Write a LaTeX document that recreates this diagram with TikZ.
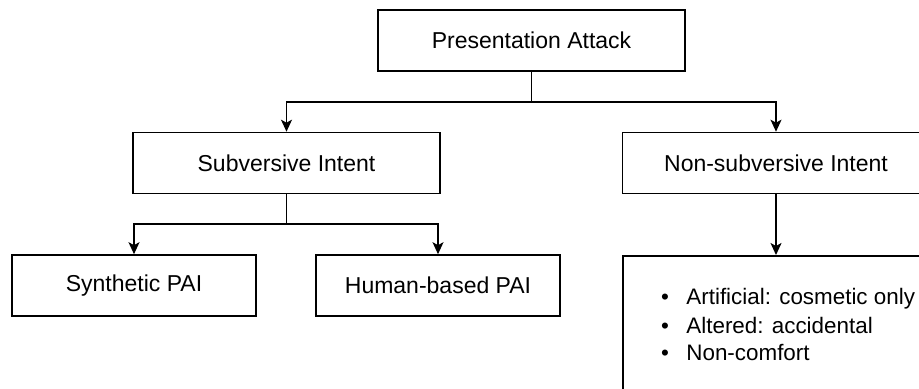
\documentclass[tikz,border=0pt]{standalone}
\usepackage{fontspec}
\setmainfont{Liberation Sans}
\usetikzlibrary{arrows.meta}
\tikzset{
  box/.style={draw=black, line width=0.8pt, fill=white, inner sep=0pt,
              minimum height=30.5pt, font=\fontsize{11.5}{13.8}\selectfont},
  wbox/.style={box, minimum width=153.5pt},
  nbox/.style={box, minimum width=122pt},
  conn/.style={draw=black, line width=0.8pt},
  arr/.style={conn, -{Stealth[length=6pt,width=5.5pt,inset=1.5pt]}},
  txt/.style={inner sep=0pt, font=\fontsize{11.2}{13.4}\selectfont}
}
\begin{document}
\begin{tikzpicture}[x=0.5pt, y=-0.5pt]
\useasboundingbox (0,0) rectangle (919,389);
\clip (0,0) rectangle (919,389);
\fill[white] (0,0) rectangle (919,389);

\node[wbox] (pa)  at (531.5,40.5) {Presentation Attack};
\node[wbox] (sub) at (286.5,163)  {Subversive Intent};
\node[wbox] (ns)  at (776,163)    {Non-subversive Intent};
\node[nbox] (syn) at (134,285.5)  {Synthetic PAI};
\node[nbox] (hum) at (438,285.5)  {Human-based PAI};
\node[box, minimum width=153.5pt, minimum height=80pt, anchor=north west] (lst) at (622,255) {};

\node[txt, anchor=base] (b1) at (665,305) {\textbullet};
\node[txt, anchor=base] (b2) at (665,333) {\textbullet};
\node[txt, anchor=base] (b3) at (665,360) {\textbullet};
\node[txt, anchor=base west] (t1) at (686,305) {Artificial: cosmetic only};
\node[txt, anchor=base west] (t2) at (686,333) {Altered: accidental};
\node[txt, anchor=base west] (t3) at (686,360) {Non-comfort};

\draw[arr] (pa.south) -- ++(0,30) -| (sub.north);
\draw[arr] (pa.south) -- ++(0,30) -| (ns.north);
\draw[arr] (sub.south) -- ++(0,30) -| (syn.north);
\draw[arr] (sub.south) -- ++(0,30) -| (hum.north);
\draw[arr] (ns.south) -- (ns.south |- lst.north);
\end{tikzpicture}
\end{document}
